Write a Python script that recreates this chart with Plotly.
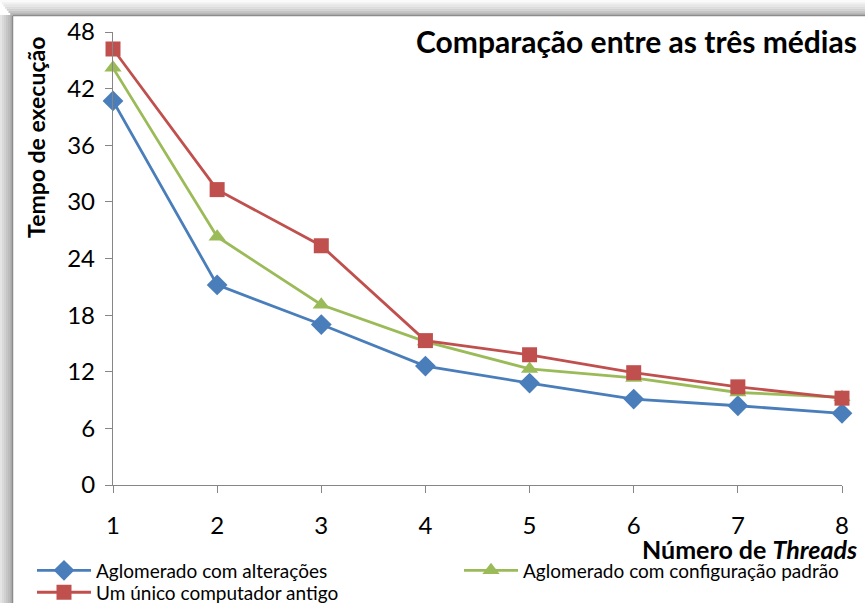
import plotly.graph_objects as go

threads = [1, 2, 3, 4, 5, 6, 7, 8]
aglom_alt = [40.7, 21.2, 17.0, 12.6, 10.8, 9.1, 8.4, 7.6]
aglom_padrao = [44.2, 26.3, 19.1, 15.2, 12.3, 11.35, 9.8, 9.3]
unico_antigo = [46.2, 31.3, 25.35, 15.3, 13.8, 11.9, 10.4, 9.2]
y_ticks = [0, 6, 12, 18, 24, 30, 36, 42, 48]

names = ["Aglomerado com alterações", "Aglomerado com configuração padrão", "Um único computador antigo"]
colors = ["#4A7EBB", "#9BBB59", "#C0504D"]
symbols = ["diamond", "triangle-up", "square"]
series = [aglom_alt, aglom_padrao, unico_antigo]
marker_sizes = [16, 15, 15]
legend_ids = ["legend", "legend2", "legend3"]

FONT = "Lato"
W, H = 865, 603
L, R, T, B = 113, 842, 32, 485.5

def px(x):
    return (x - L) / (R - L)

def py(y):
    return (B - y) / (B - T)

fig = go.Figure()
for n, c, s, v, ms, lg in zip(names, colors, symbols, series, marker_sizes, legend_ids):
    fig.add_trace(go.Scatter(
        x=threads, y=v, name=n, mode="lines+markers",
        line=dict(color=c, width=2.8),
        marker=dict(symbol=s, size=ms, color=c),
        cliponaxis=False, legend=lg,
    ))

shapes = []
# shadow gradient left
greys = ["#e4e4e4", "#dadada", "#d0d0d0", "#c6c6c6", "#bcbcbc", "#b2b2b2"]
for i, g in enumerate(greys):
    shapes.append(dict(type="rect", xref="paper", yref="paper",
                       x0=px(i * 2), x1=px(i * 2 + 2), y0=py(H + 5), y1=py(15),
                       fillcolor=g, line=dict(width=0), layer="below"))
topg = ["#fafafa", "#f0f0f0", "#e6e6e6", "#dcdcdc", "#d0d0d0", "#c4c4c4", "#b8b8b8"]
for i, g in enumerate(topg):
    shapes.append(dict(type="rect", xref="paper", yref="paper",
                       x0=px(i * 1.7), x1=px(W + 5), y0=py(i * 2.15), y1=py(i * 2.15 + 2.15),
                       fillcolor=g, line=dict(width=0), layer="below"))
# chart border
shapes.append(dict(type="line", xref="paper", yref="paper", x0=px(12.5), x1=px(12.5),
                   y0=py(15.5), y1=py(H + 5), line=dict(color="#8c8c8c", width=1.5)))
shapes.append(dict(type="line", xref="paper", yref="paper", x0=px(12.5), x1=px(W + 5),
                   y0=py(15.5), y1=py(15.5), line=dict(color="#8c8c8c", width=1.5)))

annotations = [
    dict(text="<b>Comparação entre as três médias</b>", xref="paper", yref="paper",
         x=px(859), y=py(41), xanchor="right", yanchor="middle", showarrow=False,
         font=dict(family=FONT, size=30, color="#000000")),
    dict(text="<b>Número de <i>Threads</i></b>", xref="paper", yref="paper",
         x=px(859), y=py(549.5), xanchor="right", yanchor="middle", showarrow=False,
         font=dict(family=FONT, size=25, color="#000000")),
    dict(text="<b>Tempo de execução</b>", xref="paper", yref="paper",
         x=px(36), y=py(138), xanchor="center", yanchor="middle", textangle=-90,
         showarrow=False, font=dict(family=FONT, size=23, color="#000000")),
]

legend_common = dict(orientation="v", xanchor="left", yanchor="top", traceorder="normal",
                     font=dict(family=FONT, size=19, color="#000000"),
                     itemwidth=54, tracegroupgap=0, bgcolor="rgba(0,0,0,0)")

fig.update_layout(
    width=W, height=H,
    margin=dict(l=L, r=W - R, t=T, b=H - B, autoexpand=False),
    paper_bgcolor="white", plot_bgcolor="white",
    showlegend=True,
    legend=dict(x=px(32), y=py(552), **legend_common),
    legend2=dict(x=px(459), y=py(552), **legend_common),
    legend3=dict(x=px(32), y=py(574), **legend_common),
    shapes=shapes, annotations=annotations,
    xaxis=dict(range=[1, 8], tickvals=threads, showgrid=False, zeroline=False,
               showline=True, linecolor="#868686", linewidth=1.3,
               ticks="outside", ticklen=7, tickcolor="#868686",
               ticklabelstandoff=12,
               tickfont=dict(family=FONT, size=24, color="#000000")),
    yaxis=dict(range=[0, 48], tickvals=y_ticks, showgrid=False, zeroline=False,
               showline=True, linecolor="#868686", linewidth=1.3,
               ticks="outside", ticklen=7, tickcolor="#868686",
               ticklabelstandoff=5,
               tickfont=dict(family=FONT, size=24, color="#000000")),
)

fig.write_html("out.html")
